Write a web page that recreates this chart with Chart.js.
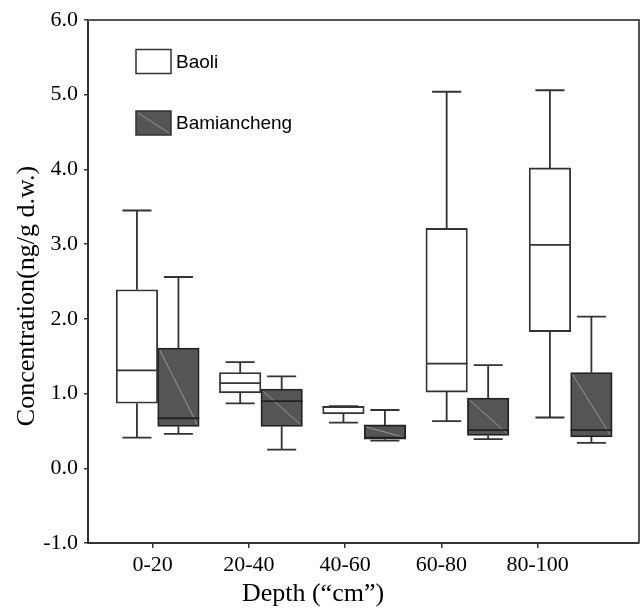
<!DOCTYPE html>
<html>
<head>
<meta charset="utf-8">
<script src="https://cdn.jsdelivr.net/npm/chart.js@4/dist/chart.umd.min.js"></script>
<style>
  html, body { margin: 0; padding: 0; background: #fff; }
  #wrap { width: 640px; height: 608px; }
</style>
</head>
<body>
<div id="wrap"><canvas id="boxChart" width="640" height="608"></canvas></div>
<script>
(function() {
  const depthLabels = ['0-20', '20-40', '40-60', '60-80', '80-100'];
  const yTicks = [-1, 0, 1, 2, 3, 4, 5, 6];

  // Baoli box stats per depth
  const baoliMin = [0.41, 0.87, 0.61, 0.63, 0.68];
  const baoliQ1 = [0.87, 1.01, 0.73, 1.02, 1.83];
  const baoliMedian = [1.31, 1.14, 0.82, 1.40, 2.99];
  const baoliQ3 = [2.39, 1.28, 0.83, 3.21, 4.02];
  const baoliMax = [3.45, 1.42, 0.83, 5.04, 5.06];

  // Bamiancheng box stats per depth
  const bamMin = [0.46, 0.25, 0.37, 0.39, 0.34];
  const bamQ1 = [0.56, 0.56, 0.39, 0.44, 0.42];
  const bamMedian = [0.67, 0.90, 0.41, 0.51, 0.51];
  const bamQ3 = [1.61, 1.06, 0.58, 0.94, 1.28];
  const bamMax = [2.56, 1.23, 0.78, 1.38, 2.03];

  const lineColor = '#333333';
  const darkFill = '#555555';
  const serif = '"Liberation Serif", "Times New Roman", serif';
  const sans = '"Liberation Sans", Arial, sans-serif';

  function boxData(q1, q3) {
    return depthLabels.map((_, i) => ({ x: i + 1, y: [q1[i], q3[i]] }));
  }

  // whiskers, medians, diagonal streak, frame, legend and axis titles
  const boxParts = {
    id: 'boxParts',
    afterDatasetsDraw(chart) {
      const ctx = chart.ctx;
      const ys = chart.scales.y;
      ctx.save();
      chart.data.datasets.forEach((ds, di) => {
        const meta = chart.getDatasetMeta(di);
        meta.data.forEach((bar, i) => {
          const p = bar.getProps(['x', 'width'], true);
          const left = p.x - p.width / 2, right = p.x + p.width / 2;
          const top = ys.getPixelForValue(ds.q3[i]);
          const bottom = ys.getPixelForValue(ds.q1[i]);
          const cap = p.width * 0.35;
          ctx.strokeStyle = lineColor;
          ctx.lineWidth = 1.8;
          const hi = ys.getPixelForValue(ds.maxV[i]);
          const lo = ys.getPixelForValue(ds.minV[i]);
          ctx.beginPath();
          ctx.moveTo(p.x, top); ctx.lineTo(p.x, hi);
          ctx.moveTo(p.x - cap, hi); ctx.lineTo(p.x + cap, hi);
          ctx.moveTo(p.x, bottom); ctx.lineTo(p.x, lo);
          ctx.moveTo(p.x - cap, lo); ctx.lineTo(p.x + cap, lo);
          ctx.stroke();
          if (ds.streak) {
            ctx.strokeStyle = 'rgba(200,200,200,0.55)';
            ctx.lineWidth = 1;
            ctx.beginPath();
            ctx.moveTo(left + 2, top + 2); ctx.lineTo(right - 2, bottom - 2);
            ctx.stroke();
          }
          const med = ys.getPixelForValue(ds.median[i]);
          ctx.strokeStyle = ds.streak ? '#222' : lineColor;
          ctx.lineWidth = 1.8;
          ctx.beginPath();
          ctx.moveTo(left, med); ctx.lineTo(right, med);
          ctx.stroke();
        });
      });
      ctx.restore();
    },
    afterDraw(chart) {
      const ctx = chart.ctx;
      const a = chart.chartArea;
      ctx.save();
      // top and right frame
      ctx.strokeStyle = '#555';
      ctx.lineWidth = 2;
      ctx.beginPath();
      ctx.moveTo(a.left, a.top); ctx.lineTo(a.right, a.top); ctx.lineTo(a.right, a.bottom);
      ctx.stroke();

      // legend
      const items = chart.data.datasets;
      items.forEach((ds, i) => {
        const bx = 136, by = 49.5 + i * 61.5, bw = 35, bh = 24;
        ctx.fillStyle = ds.backgroundColor;
        ctx.fillRect(bx, by, bw, bh);
        if (ds.streak) {
          ctx.strokeStyle = 'rgba(200,200,200,0.55)';
          ctx.lineWidth = 1;
          ctx.beginPath();
          ctx.moveTo(bx + 2, by + 2); ctx.lineTo(bx + bw - 2, by + bh - 2);
          ctx.stroke();
        }
        ctx.strokeStyle = lineColor;
        ctx.lineWidth = 1.5;
        ctx.strokeRect(bx, by, bw, bh);
        ctx.fillStyle = '#000';
        ctx.font = '19px ' + sans;
        ctx.textAlign = 'left';
        ctx.textBaseline = 'middle';
        ctx.fillText(ds.label, bx + 40, by + bh / 2 + 1);
      });

      // axis titles
      ctx.fillStyle = '#000';
      ctx.font = '26px ' + serif;
      ctx.textAlign = 'center';
      ctx.textBaseline = 'middle';
      ctx.fillText('Depth (\u201Ccm\u201D)', 313, 594);
      ctx.translate(27, 296);
      ctx.rotate(-Math.PI / 2);
      ctx.fillText('Concentration(ng/g d.w.)', 0, 0);
      ctx.restore();
    }
  };

  new Chart(document.getElementById('boxChart').getContext('2d'), {
    type: 'bar',
    data: {
      datasets: [
        {
          label: 'Baoli',
          data: boxData(baoliQ1, baoliQ3),
          q1: baoliQ1, q3: baoliQ3, median: baoliMedian, minV: baoliMin, maxV: baoliMax,
          backgroundColor: '#ffffff', borderColor: lineColor, borderWidth: 1.8,
          borderSkipped: false, xAxisID: 'xb', barThickness: 41.5, streak: false
        },
        {
          label: 'Bamiancheng',
          data: boxData(bamQ1, bamQ3),
          q1: bamQ1, q3: bamQ3, median: bamMedian, minV: bamMin, maxV: bamMax,
          backgroundColor: darkFill, borderColor: '#222', borderWidth: 1.8,
          borderSkipped: false, xAxisID: 'xb', barThickness: 41.5, streak: true
        }
      ]
    },
    options: {
      responsive: false,
      animation: false,
      events: [],
      layout: { padding: { top: 20, right: 1, bottom: 0, left: 0 } },
      plugins: { legend: { display: false }, tooltip: { enabled: false } },
      scales: {
        xb: {
          type: 'linear', display: false, offset: false, grid: { offset: false },
          min: 0.325, max: 5.662
        },
        x: {
          type: 'linear', position: 'bottom', offset: false, min: 0.328, max: 6.053,
          afterBuildTicks: s => { s.ticks = depthLabels.map((_, i) => ({ value: i + 1 })); },
          afterFit: s => { s.height = 65; },
          ticks: {
            autoSkip: false, maxRotation: 0, padding: 4, color: '#000',
            font: { family: serif, size: 22 },
            callback: v => depthLabels[v - 1] || ''
          },
          grid: { offset: false, drawOnChartArea: false, drawTicks: true, tickLength: 5, color: lineColor, lineWidth: 1.5 },
          border: { color: lineColor, width: 2 }
        },
        y: {
          type: 'linear', min: -1, max: 6,
          afterBuildTicks: s => { s.ticks = yTicks.map(v => ({ value: v })); },
          afterFit: s => { s.width = 88; },
          ticks: {
            padding: 6, color: '#000',
            font: { family: serif, size: 22 },
            callback: v => v.toFixed(1)
          },
          grid: { drawOnChartArea: false, drawTicks: true, tickLength: 4, color: lineColor, lineWidth: 1.5 },
          border: { color: lineColor, width: 2 }
        }
      }
    },
    plugins: [boxParts]
  });
})();
</script>
</body>
</html>
